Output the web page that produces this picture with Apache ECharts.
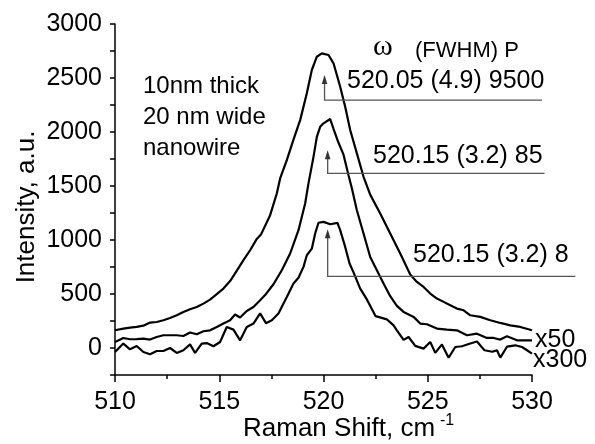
<!DOCTYPE html>
<html><head><meta charset="utf-8">
<script src="https://cdn.jsdelivr.net/npm/echarts@6/dist/echarts.min.js"></script>
<style>html,body{margin:0;padding:0;background:#fff}#c{width:595px;height:444px}</style>
</head><body><div id="c"></div>
<script>
// Top curve (P = 9500)
const shiftTop = [510.0,510.4,510.72,511.04,511.36,511.68,512.0,512.32,512.64,512.96,513.28,513.6,513.92,514.24,514.56,514.88,515.2,515.52,515.92,516.16,516.48,516.8,517.0,517.44,517.76,517.92,518.24,518.56,518.88,519.2,519.44,519.68,519.92,520.24,520.48,520.8,521.04,521.28,521.6,521.92,522.24,522.72,523.2,523.68,524.16,524.48,524.8,525.12,525.44,525.76,526.08,526.4,526.72,527.04,527.52,528.0,528.48,528.96,529.44,530.0];
const intensityTop = [164,180,189,195,207,235,241,257,278,303,334,359,380,411,448,498,550,620,740,813,905,1010,1050,1230,1431,1570,1740,1930,2110,2358,2574,2697,2728,2713,2636,2419,2234,2018,1802,1585,1420,1246,1060,875,680,612,565,504,458,427,396,365,349,303,288,257,232,210,195,164];
// Middle curve (P = 85, x50)
const shiftMid = [510.0,510.4,510.72,511.04,511.36,511.68,512.0,512.32,512.96,513.28,513.6,513.92,514.24,514.56,514.88,515.2,515.52,515.76,516.0,516.32,516.64,516.96,517.2,517.6,518.0,518.4,518.8,519.12,519.28,519.52,519.68,519.84,520.0,520.32,520.48,520.72,520.96,521.2,521.36,521.6,521.92,522.24,522.56,522.88,523.2,523.52,523.84,524.32,524.64,524.96,525.44,525.92,526.4,526.88,527.36,527.84,528.16,528.48,528.8,529.28,530.0];
const intensityMid = [56,93,81,82,87,78,102,118,118,111,143,127,155,164,195,226,257,310,282,343,380,442,490,590,720,875,1091,1338,1524,1770,1955,2048,2080,2120,2030,1900,1790,1600,1480,1276,1060,843,720,597,480,390,334,288,226,220,180,170,164,118,133,93,93,78,108,71,71];
// Bottom curve (P = 8, x300)
const shiftLow = [510.0,510.4,510.72,511.04,511.36,511.68,512.0,512.32,512.64,512.96,513.28,513.6,513.84,514.16,514.4,514.72,515.04,515.36,515.68,516.0,516.32,516.64,516.96,517.24,517.52,517.84,518.1,518.24,518.56,518.8,519.04,519.2,519.44,519.6,519.76,520.0,520.32,520.67,520.8,521.04,521.25,521.44,521.76,522.08,522.5,523.04,523.36,523.52,523.84,524.08,524.4,524.8,525.12,525.36,525.68,526.0,526.32,526.64,527.04,527.36,527.72,528.1,528.32,528.48,528.8,529.2,529.52,529.76,530.0];
const intensityLow = [-37,41,-12,19,-37,-58,-28,-28,0,-46,-21,34,-46,41,46,16,56,195,170,71,195,226,320,230,257,319,420,473,597,650,751,859,920,1060,1160,1168,1146,1158,1091,936,782,700,550,450,295,265,210,164,75,102,20,-6,56,-45,33,-90,9,16,41,60,-21,-35,-21,-89,12,25,9,-21,-52];

const xTicks = [510, 515, 520, 525, 530];
const yTicks = [0, 500, 1000, 1500, 2000, 2500, 3000];

// Annotations: peak position arrows
const annArrowX = [520.05, 520.2, 520.2];
const annTipY = [2527, 1832, 1100];
const annBaseY = [2296, 1616, 664];
const annEndX = [530.48, 530.6, 532.08];
const annLabels = ['520.05 (4.9) 9500', '520.15 (3.2) 85', '520.15 (3.2) 8'];
const curveTags = ['x50', 'x300'];
const sampleLines = ['10nm thick', '20 nm wide', 'nanowire'];

const FF = '"Liberation Sans", Arial, sans-serif';
const zip = (xs, ys) => xs.map((x, i) => [x, ys[i]]);

const chart = echarts.init(document.getElementById('c'), null, {renderer: 'canvas'});
const lineSeries = (name, xs, ys) => ({
  name, type: 'line', data: zip(xs, ys), showSymbol: false, symbol: 'none',
  lineStyle: {color: '#000', width: 2.2}, itemStyle: {color: '#000'},
  clip: false, animation: false, z: 3
});

chart.setOption({
  animation: false,
  backgroundColor: '#fff',
  grid: {left: 115, right: 63, top: 24, bottom: 69, containLabel: false},
  xAxis: {
    type: 'value', min: 510, max: 530, interval: 5,
    axisLine: {show: true, onZero: false, lineStyle: {color: '#000', width: 1.5}},
    axisTick: {show: true, length: 7, inside: false, lineStyle: {color: '#000', width: 1.5}},
    minorTick: {show: true, splitNumber: 2, length: 4, lineStyle: {color: '#000', width: 1.5}},
    splitLine: {show: false}, minorSplitLine: {show: false},
    axisLabel: {show: true, fontSize: 25, color: '#000', fontFamily: FF, margin: 15,
      showMinLabel: true, showMaxLabel: true,
      formatter: v => xTicks.includes(v) ? String(v) : ''}
  },
  yAxis: {
    type: 'value', min: -250, max: 3000, interval: 250,
    axisLine: {show: true, onZero: false, lineStyle: {color: '#000', width: 1.5}},
    axisTick: {show: true, length: 5, inside: false, lineStyle: {color: '#000', width: 1.5}},
    splitLine: {show: false},
    axisLabel: {show: true, fontSize: 25, color: '#000', fontFamily: FF, margin: 13,
      showMinLabel: true, showMaxLabel: true,
      formatter: v => yTicks.includes(v) ? String(v) : ''}
  },
  series: [
    lineSeries('P9500', shiftTop, intensityTop),
    lineSeries('P85', shiftMid, intensityMid),
    lineSeries('P8', shiftLow, intensityLow)
  ]
});

const px = (x, y) => chart.convertToPixel({gridIndex: 0}, [x, y]);
const gray = '#555';
const g = [];
for (let i = 0; i < annArrowX.length; i++) {
  const b = px(annArrowX[i], annBaseY[i]);
  const t = px(annArrowX[i], annTipY[i]);
  const e = px(annEndX[i], annBaseY[i]);
  g.push({type: 'polyline', shape: {points: [[e[0], b[1]], [b[0], b[1]], [b[0], t[1] + 7]]},
    style: {stroke: gray, lineWidth: 1.3, fill: null}, z: 10});
  g.push({type: 'polygon', shape: {points: [[t[0], t[1]], [t[0] - 2.8, t[1] + 9], [t[0] + 2.8, t[1] + 9]]},
    style: {fill: '#333', stroke: null}, z: 10});
}
const txt = (text, x, y, size, extra) => Object.assign({
  type: 'text', x, y, z: 20,
  style: Object.assign({text, fill: '#000', font: size + 'px ' + FF, align: 'left', verticalAlign: 'middle'}, extra || {})
});
g.push(txt(annLabels[0], 347, 81, 25));
g.push(txt(annLabels[1], 373, 156, 25));
g.push(txt(annLabels[2], 413, 255, 25));
g.push(txt('ω', 373, 47, 30, {font: '30px "Liberation Serif", "Times New Roman", serif'}));
g.push(txt('(FWHM) P', 415, 51, 22));
g.push(txt(curveTags[0], 535, 340, 25));
g.push(txt(curveTags[1], 533, 360, 25));
g.push(txt(sampleLines[0], 143, 86.5, 24));
g.push(txt(sampleLines[1], 143, 117.5, 24));
g.push(txt(sampleLines[2], 143, 148.5, 24));
g.push(txt('Raman Shift, cm', 243, 429, 26));
g.push(txt('-1', 440, 421, 16));
g.push({type: 'text', x: 27, y: 207, rotation: Math.PI / 2, z: 20,
  style: {text: 'Intensity, a.u.', fill: '#000', font: '26px ' + FF, align: 'center', verticalAlign: 'middle'}});
chart.setOption({graphic: g});
</script>
</body></html>
